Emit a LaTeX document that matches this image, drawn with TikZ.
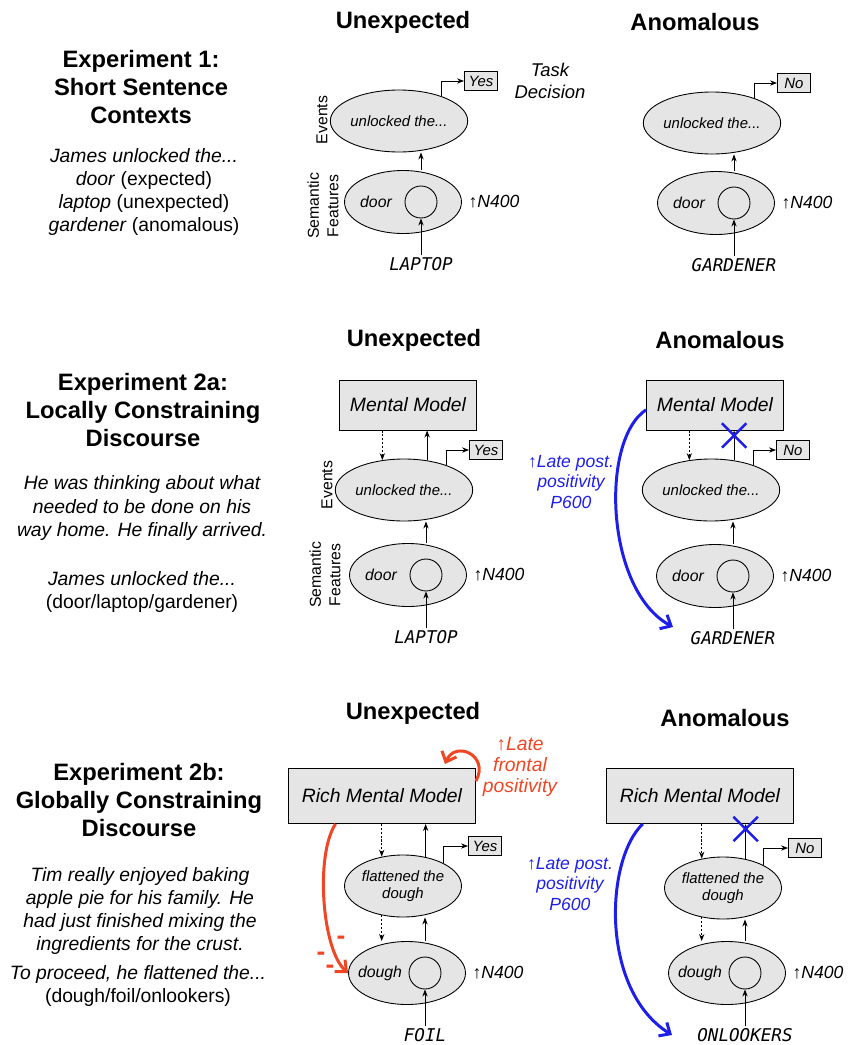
\documentclass[tikz,border=0pt]{standalone}
\usepackage{fontspec}
\setmainfont{Liberation Sans}
\newfontfamily\wordfont{DejaVu Sans Mono}
\usetikzlibrary{arrows.meta,calc,shapes.geometric,shapes.misc}
\colorlet{UnitFill}{black!10}
\definecolor{LateBlue}{RGB}{30,30,235}
\definecolor{LateRed}{RGB}{240,70,35}
\newcommand{\PlaceStack}[8]{%
  % #1 prefix, #2 x of features, #3 y of events, #4 y of features
  % #5 event text, #6 feature word, #7 input word, #8 decision
  \pgfmathsetmacro{\ux}{#2+18}
  \node[event] (#1ev) at (#2-4,#3) {#5};
  \node[feature] (#1sf) at (#2,#4) {};
  \node[unit] (#1u) at (\ux,#4) {};
  \node[featword] (#1fw) at (#2-27,#4) {#6};
  \node[erp] (#1n4) at (#2+91,#4) {↑N400};
  \node[inword] (#1in) at (\ux,#4+62) {#7};
  \node[decision] (#1dec) at (#2+78,#3-40) {#8};
  \draw[feed] (#1in) -- (#1u);
  \draw[feed] (#1sf.north -| #1u) -- (#1ev.south -| #1u);
  \draw[feed] (#1ev.30) |- (#1dec);
}

\begin{document}
\begin{tikzpicture}[
  x=0.02cm, y=-0.02cm,
  feed/.style={draw=black,line width=0.5pt,-{Stealth[length=4pt,width=3pt]}},
  hint/.style={feed,dash pattern=on 1.2pt off 1pt},
  event/.style={ellipse,draw=black,line width=0.5pt,fill=UnitFill,minimum width=2.34cm,
    minimum height=1.24cm,inner sep=0pt,align=center,font=\fontsize{8.5}{10}\selectfont\itshape},
  feature/.style={ellipse,draw=black,line width=0.5pt,fill=UnitFill,minimum width=2.34cm,
    minimum height=1.26cm,inner sep=0pt},
  unit/.style={circle,draw=black,line width=0.5pt,minimum size=0.64cm,inner sep=0pt},
  featword/.style={font=\fontsize{9}{10}\selectfont\itshape},
  erp/.style={font=\fontsize{10}{12}\selectfont\itshape},
  inword/.style={inner sep=1pt,font=\wordfont\itshape\fontsize{10}{12}\selectfont},
  decision/.style={rectangle,draw=black,line width=0.5pt,fill=UnitFill,minimum width=0.66cm,
    minimum height=0.38cm,inner sep=1pt,font=\fontsize{8.5}{10}\selectfont\itshape},
  model/.style={rectangle,draw=black,line width=0.5pt,fill=UnitFill,minimum width=2.74cm,
    minimum height=1cm,font=\fontsize{11}{13}\selectfont\itshape},
  richmodel/.style={model,minimum width=3.74cm,minimum height=1.1cm},
  heading/.style={font=\fontsize{13.5}{16}\selectfont\bfseries},
  exptitle/.style={align=center,font=\fontsize{13.5}{15.9}\selectfont\bfseries},
  story/.style={align=center,font=\fontsize{11}{13.2}\selectfont\itshape},
  sidelabel/.style={rotate=90,align=center,font=\fontsize{9}{11}\selectfont},
  taskdec/.style={align=center,font=\fontsize{10.5}{12.5}\selectfont\itshape},
  latetext/.style={align=center,font=\fontsize{10}{11.5}\selectfont\itshape},
  crossmark/.style={cross out,draw=LateBlue,line width=1.4pt,minimum size=0.44cm,inner sep=0pt},
  lateblue/.style={draw=LateBlue,line width=1.7pt,-{Straight Barb[length=5pt,width=9pt]}},
  latered/.style={draw=LateRed,line width=1.7pt,-{Straight Barb[length=5pt,width=9pt]}},
  minus/.style={text=LateRed,inner sep=0pt,font=\fontsize{15}{15}\selectfont\bfseries}
]
\useasboundingbox (0,0) rectangle (852,1045);

% Experiment texts
\node[exptitle] (exp1) at (141,87) {Experiment 1:\\Short Sentence\\Contexts};
\node[story] (story1) at (144,192) {James unlocked the...\\door \textup{(expected)}\\laptop \textup{(unexpected)}\\gardener \textup{(anomalous)}};
\node[exptitle] (exp2a) at (143,410) {Experiment 2a:\\Locally Constraining\\Discourse};
\node[story] (story2a) at (142,508) {He was thinking about what\\needed to be done on his\\way home. He finally arrived.};
\node[story] (cue2a) at (142,592) {James unlocked the...\\\textup{(door/laptop/gardener)}};
\node[exptitle] (exp2b) at (139,800) {Experiment 2b:\\Globally Constraining\\Discourse};
\node[story] (story2b) at (140,911) {Tim really enjoyed baking\\apple pie for his family. He\\had just finished mixing the\\ingredients for the crust.};
\node[story] (cue2b) at (138,986) {To proceed, he flattened the...\\\textup{(dough/foil/onlookers)}};

% Column headings
\node[heading] (hA) at (403,22) {Unexpected};
\node[heading] (hB) at (695,22) {Anomalous};
\node[heading] (hC) at (414,340) {Unexpected};
\node[heading] (hD) at (720,340) {Anomalous};
\node[heading] (hE) at (413,713) {Unexpected};
\node[heading] (hF) at (725,718) {Anomalous};

% Stacks
\PlaceStack{A}{403}{121}{202}{unlocked the...}{door}{LAPTOP}{Yes}
\PlaceStack{B}{716}{123}{203}{unlocked the...}{door}{GARDENER}{No}
\PlaceStack{C}{408}{490}{575}{unlocked the...}{door}{LAPTOP}{Yes}
\PlaceStack{D}{715}{490}{576}{unlocked the...}{door}{GARDENER}{No}
\PlaceStack{E}{407}{886}{973}{flattened the\\dough}{dough}{FOIL}{Yes}
\PlaceStack{F}{727}{888}{973}{flattened the\\dough}{dough}{ONLOOKERS}{No}

% Level labels
\node[sidelabel] (Aevl) at (322,120) {Events};
\node[sidelabel] (Asfl) at (323,206) {Semantic\\Features};
\node[sidelabel] (Cevl) at (327,485) {Events};
\node[sidelabel] (Csfl) at (325,575) {Semantic\\Features};
\node[taskdec] (task) at (550,81) {Task\\Decision};

% Mental models
\node[model] (C0) at (408,405) {Mental Model};
\node[model] (D0) at (715,405) {Mental Model};
\node[richmodel] (E0) at (382,796) {Rich Mental Model};
\node[richmodel] (F0) at (700,796) {Rich Mental Model};

\draw[hint] (C0.south -| Cev.126) -- (Cev.126);
\draw[feed] (Cev.52) -- (C0.south -| Cev.52);
\draw[hint] (D0.south -| Dev.126) -- (Dev.126);
\draw[feed] (Dev.52) -- (D0.south -| Dev.52);
\draw[hint] (E0.south -| Eev.126) -- (Eev.126);
\draw[feed] (Eev.52) -- (E0.south -| Eev.52);
\draw[hint] (Eev.234) -- (Esf.north -| Eev.234);
\draw[hint] (F0.south -| Fev.126) -- (Fev.126);
\draw[feed] (Fev.52) -- (F0.south -| Fev.52);
\draw[hint] (Fev.234) -- (Fsf.north -| Fev.234);

% Blocked integration
\node[crossmark] (Dx) at ($(D0.south -| Dev.52)+(0,5)$) {};
\node[crossmark] (Fx) at ($(F0.south -| Fev.52)+(0,5)$) {};

% Late positivities
\coordinate (Dhit) at (673,627);
\coordinate (Fhit) at (672,1035);
\coordinate (Eloop) at (445,764);
\draw[lateblue] (D0.184) .. controls (600,440) and (605,590) .. (Dhit);
\draw[lateblue] (F0.206) .. controls (605,860) and (600,990) .. (Fhit);
\draw[latered] (E0.211) .. controls (315,855) and (322,950) .. (Esf.west);
\draw[latered] (E0.9) .. controls (490,755) and (455,740) .. (Eloop);
\node[latetext,text=LateBlue] (Dlate) at (571,482) {↑Late post.\\positivity\\P600};
\node[latetext,text=LateBlue] (Flate) at (570,884) {↑Late post.\\positivity\\P600};
\node[latetext,text=LateRed,font=\fontsize{11}{12}\selectfont\itshape] (Elate) at (520,767) {↑Late\\frontal\\positivity};
\node[minus] (m1) at (341,940) {-};
\node[minus] (m2) at (321,956) {-};
\node[minus] (m3) at (330,969) {-};

\end{tikzpicture}
\end{document}
